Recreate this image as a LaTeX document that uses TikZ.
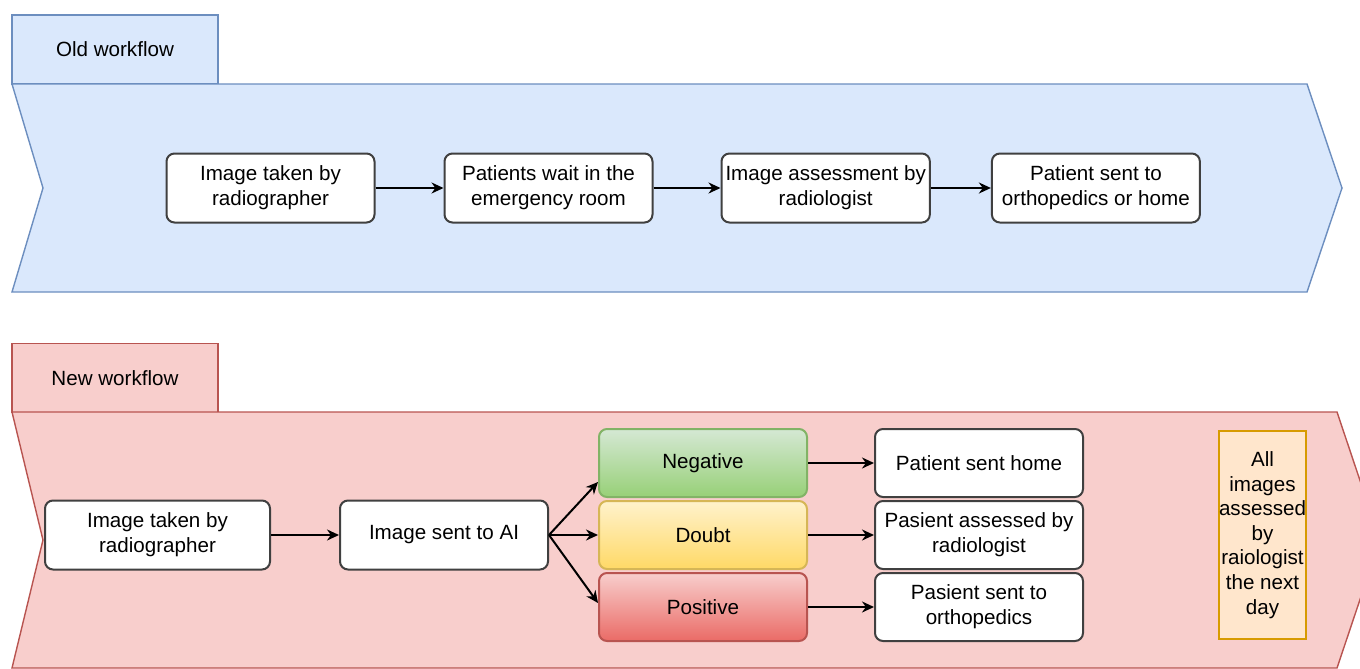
\documentclass[tikz,border=0pt]{standalone}
\usepackage{fontspec}
\setmainfont{Liberation Sans}
\usepackage{tikz}
\usetikzlibrary{arrows.meta, positioning}
\usepackage{xcolor}

\definecolor{oldfill}{HTML}{DAE8FC}
\definecolor{oldline}{HTML}{6C8EBF}
\definecolor{newfill}{HTML}{F8CECC}
\definecolor{newline}{HTML}{B85450}
\definecolor{notefill}{HTML}{FFE6CC}
\definecolor{noteline}{HTML}{D79B00}
\definecolor{negtop}{HTML}{D5E8D4}
\definecolor{negbot}{HTML}{97D077}
\definecolor{negline}{HTML}{82B366}
\definecolor{doubttop}{HTML}{FFF2CC}
\definecolor{doubtbot}{HTML}{FFD966}
\definecolor{doubtline}{HTML}{D6B656}
\definecolor{postop}{HTML}{F8CECC}
\definecolor{posbot}{HTML}{EA6B66}

\tikzset{
  stepbox/.style={draw=black!75, line width=1pt, rounded corners=4pt, fill=white, align=center,
    minimum width=104pt, minimum height=34.5pt, inner xsep=2pt, font=\fontsize{10.3}{12.5}\selectfont},
  resultbox/.style={stepbox, minimum height=34pt},
  tabbox/.style={draw, line width=0.7pt, minimum width=103pt, minimum height=34.5pt,
    font=\fontsize{10.3}{12.5}\selectfont},
  flow/.style={->, line width=1pt},
}

\begin{document}
\begin{tikzpicture}[x=0.5pt, y=-0.5pt, >={Stealth[length=6pt, width=5.5pt]}]
\clip (0,0) rectangle (1360,669);

% old workflow
\node[tabbox, draw=oldline, fill=oldfill] (oldtab) at (115,49.5) {Old workflow};
\draw[oldline, fill=oldfill, line width=0.7pt] (12,84) -- (1307,84) -- (1342,188) -- (1307,292) -- (12,292) -- (43,188) -- cycle;

\node[stepbox] (oimg) at (270.5,188) {Image taken by\\radiographer};
\node[stepbox, right=34pt of oimg] (owait) {Patients wait in the\\emergency room};
\node[stepbox, right=33.5pt of owait] (orad) {Image assessment by\\radiologist};
\node[stepbox, right=30pt of orad] (osent) {Patient sent to\\orthopedics or home};

\draw[flow] (oimg) -- (owait);
\draw[flow] (owait) -- (orad);
\draw[flow] (orad) -- (osent);

% new workflow
\node[tabbox, draw=newline, fill=newfill] (newtab) at (115,378) {New workflow};
\draw[newline, fill=newfill, line width=0.7pt] (12,412) -- (1337,412) -- (1380,540) -- (1337,668) -- (12,668) -- (43,540) -- cycle;

\node[stepbox, minimum width=112.5pt] (nimg) at (157.5,535) {Image taken by\\radiographer};
\node[stepbox, right=34pt of nimg] (ai) {Image sent to AI};

\node[resultbox, right=24.5pt of ai, draw=doubtline, top color=doubttop, bottom color=doubtbot] (doubt) {Doubt};
\node[resultbox, above=1pt of doubt, draw=negline, top color=negtop, bottom color=negbot] (neg) {Negative};
\node[resultbox, below=1pt of doubt, draw=newline, top color=postop, bottom color=posbot] (pos) {Positive};

\node[resultbox, right=33pt of neg] (home) {Patient sent home};
\node[resultbox, right=33pt of doubt] (assess) {Pasient assessed by\\radiologist};
\node[resultbox, right=33pt of pos] (ortho) {Pasient sent to\\orthopedics};

\node[draw=noteline, fill=notefill, line width=1pt, align=center, inner sep=0pt, minimum width=43.5pt, minimum height=104pt,
  font=\fontsize{10.3}{12.3}\selectfont] (note) at (1262.5,535) {All\\images\\assessed\\by\\raiologist\\the next\\day};

\draw[flow] (nimg) -- (ai);
\draw[flow] (ai.east) -- ([yshift=-9.5pt]neg.west);
\draw[flow] (ai.east) -- (doubt.west);
\draw[flow] (ai.east) -- ([yshift=2pt]pos.west);
\draw[flow] (neg) -- (home);
\draw[flow] (doubt) -- (assess);
\draw[flow] (pos) -- (ortho);
\end{tikzpicture}
\end{document}
